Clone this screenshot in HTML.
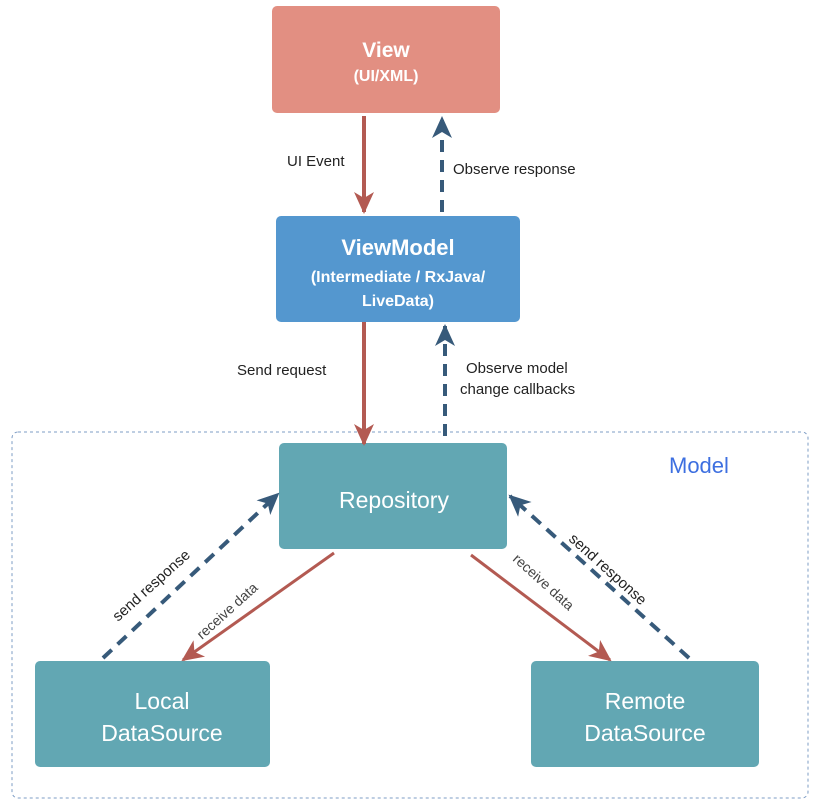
<!DOCTYPE html>
<html><head><style>
body{margin:0;background:#fff;}
svg{display:block;font-family:"Liberation Sans",Arial,sans-serif;}
</style></head><body>
<svg width="816" height="802" viewBox="0 0 816 802" xmlns="http://www.w3.org/2000/svg">
<defs>
<marker id="rb" markerWidth="24" markerHeight="24" refX="20" refY="12" orient="auto" markerUnits="userSpaceOnUse"><path d="M0,2 L22,12 L0,22 L6,12 Z" fill="#b35a52"/></marker>
<marker id="bb" markerWidth="24" markerHeight="24" refX="20" refY="12" orient="auto" markerUnits="userSpaceOnUse"><path d="M0,2 L22,12 L0,22 L6,12 Z" fill="#375a7a"/></marker>
</defs>
<rect x="12" y="432" width="796" height="366" rx="6" fill="none" stroke="#7d9cc4" stroke-width="1" stroke-dasharray="3,3"/>
<text x="669" y="473" font-size="22" fill="#3d6fe0">Model</text>

<rect x="272" y="6" width="228" height="107" rx="5" fill="#e28f82"/>
<text x="386" y="57" font-size="21" font-weight="bold" fill="#fff" text-anchor="middle">View</text>
<text x="386" y="81" font-size="16" font-weight="bold" fill="#fff" text-anchor="middle">(UI/XML)</text>

<rect x="276" y="216" width="244" height="106" rx="5" fill="#5497cf"/>
<text x="398" y="255" font-size="22" font-weight="bold" fill="#fff" text-anchor="middle">ViewModel</text>
<text x="398" y="282" font-size="16" font-weight="bold" fill="#fff" text-anchor="middle">(Intermediate / RxJava/</text>
<text x="398" y="306" font-size="16" font-weight="bold" fill="#fff" text-anchor="middle">LiveData)</text>

<rect x="279" y="443" width="228" height="106" rx="5" fill="#62a7b3"/>
<text x="394" y="508" font-size="23" fill="#fff" text-anchor="middle">Repository</text>

<rect x="35" y="661" width="235" height="106" rx="5" fill="#62a7b3"/>
<text x="162" y="709" font-size="23" fill="#fff" text-anchor="middle">Local</text>
<text x="162" y="741" font-size="23" fill="#fff" text-anchor="middle">DataSource</text>

<rect x="531" y="661" width="228" height="106" rx="5" fill="#62a7b3"/>
<text x="645" y="709" font-size="23" fill="#fff" text-anchor="middle">Remote</text>
<text x="645" y="741" font-size="23" fill="#fff" text-anchor="middle">DataSource</text>

<line x1="364" y1="116" x2="364" y2="212" stroke="#b35a52" stroke-width="4" marker-end="url(#rb)"/>
<line x1="442" y1="212" x2="442" y2="118" stroke="#375a7a" stroke-width="4" stroke-dasharray="12,8" marker-end="url(#bb)"/>
<line x1="364" y1="322" x2="364" y2="444" stroke="#b35a52" stroke-width="4" marker-end="url(#rb)"/>
<line x1="445" y1="436" x2="445" y2="326" stroke="#375a7a" stroke-width="4" stroke-dasharray="12,8" marker-end="url(#bb)"/>
<line x1="103" y1="658" x2="278" y2="494" stroke="#375a7a" stroke-width="4" stroke-dasharray="12,8" marker-end="url(#bb)"/>
<line x1="334" y1="553" x2="183" y2="660" stroke="#b35a52" stroke-width="3" marker-end="url(#rb)"/>
<line x1="471" y1="555" x2="610" y2="660" stroke="#b35a52" stroke-width="3" marker-end="url(#rb)"/>
<line x1="689" y1="658" x2="510" y2="496" stroke="#375a7a" stroke-width="4" stroke-dasharray="12,8" marker-end="url(#bb)"/>

<g font-size="15" fill="#222">
<text x="287" y="166">UI Event</text>
<text x="453" y="174">Observe response</text>
<text x="237" y="375">Send request</text>
<text x="466" y="373">Observe model</text>
<text x="460" y="394">change callbacks</text>
<text transform="translate(118,622) rotate(-42)">send response</text>
<text transform="translate(202,640) rotate(-42)" font-size="14" fill="#444">receive data</text>
<text transform="translate(512,560) rotate(42)" font-size="14" fill="#444">receive data</text>
<text transform="translate(568,540) rotate(42)">send response</text>
</g>
</svg>
</body></html>
